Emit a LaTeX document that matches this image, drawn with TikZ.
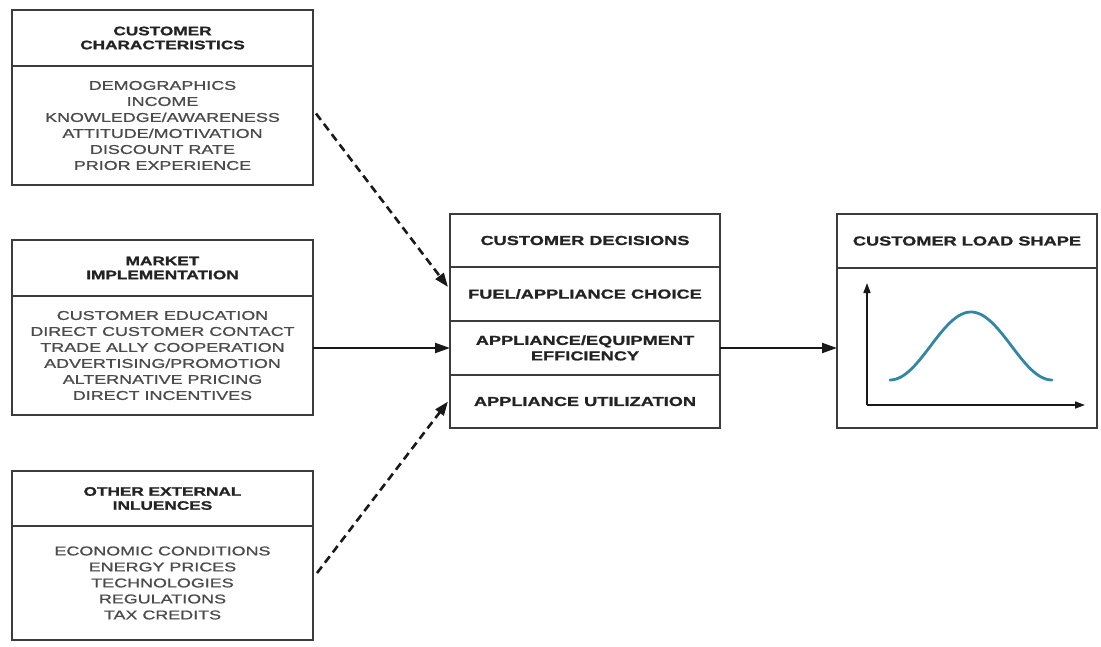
\documentclass[tikz,border=0pt]{standalone}
\usepackage{fontspec}
\setmainfont{Liberation Sans}[FakeStretch=1.4]
\newfontfamily\itemfont{Liberation Sans}[FakeStretch=1.4,FakeBold=1]
\newfontfamily\titlefont{Liberation Sans Bold}[FakeStretch=1.4,FakeBold=1.2]
\usetikzlibrary{arrows.meta}
\definecolor{boxline}{RGB}{60,60,60}
\definecolor{itemtext}{RGB}{75,75,75}
\definecolor{titletext}{RGB}{35,35,35}
\definecolor{arrowcol}{RGB}{25,25,25}
\definecolor{curvecol}{RGB}{50,135,165}
\begin{document}
\begin{tikzpicture}[x=1pt,y=-1pt,
  box/.style={draw=boxline,line width=2pt,inner sep=0pt,outer sep=0pt,align=center},
  ltitle/.style={box,minimum width=301pt,font=\titlefont\fontsize{12.3}{14}\selectfont,text=titletext},
  litems/.style={box,minimum width=301pt,font=\itemfont\fontsize{12.8}{16}\selectfont,text=itemtext},
  crow/.style={box,minimum width=270pt,font=\titlefont\fontsize{13}{15.5}\selectfont,text=titletext},
  rbox/.style={box,minimum width=260pt},
  solidarrow/.style={draw=arrowcol,line width=2pt,-{Triangle[length=15pt,width=10pt]}},
  dasharrow/.style={draw=arrowcol,line width=2.6pt,dash pattern=on 8pt off 5pt,-{Triangle[length=14pt,width=10pt]}},
  axisarrow/.style={draw=arrowcol,line width=1.6pt,-{Triangle[length=10pt,width=7pt]}}
]
\fill[white] (0,0) rectangle (1101,646);
\useasboundingbox (0,0) rectangle (1101,646);

% left boxes
\node[ltitle,minimum height=56pt] (c1t) at (162.5,38) {CUSTOMER\\CHARACTERISTICS};
\node[litems,minimum height=119pt] (c1b) at (162.5,125.5) {DEMOGRAPHICS\\INCOME\\KNOWLEDGE/AWARENESS\\ATTITUDE/MOTIVATION\\DISCOUNT RATE\\PRIOR EXPERIENCE};

\node[ltitle,minimum height=56pt] (c2t) at (162.5,268) {MARKET\\IMPLEMENTATION};
\node[litems,minimum height=119pt] (c2b) at (162.5,355.5) {CUSTOMER EDUCATION\\DIRECT CUSTOMER CONTACT\\TRADE ALLY COOPERATION\\ADVERTISING/PROMOTION\\ALTERNATIVE PRICING\\DIRECT INCENTIVES};

\node[ltitle,minimum height=55pt] (c3t) at (162.5,498.5) {OTHER EXTERNAL\\INLUENCES};
\node[litems,minimum height=114pt] (c3b) at (162.5,583) {ECONOMIC CONDITIONS\\ENERGY PRICES\\TECHNOLOGIES\\REGULATIONS\\TAX CREDITS};

% center box
\node[crow,minimum height=53pt] (dec) at (585,240.5) {CUSTOMER DECISIONS};
\node[crow,minimum height=54pt] (fuel) at (585,294) {FUEL/APPLIANCE CHOICE};
\node[crow,minimum height=54pt] (eff) at (585,348) {APPLIANCE/EQUIPMENT\\EFFICIENCY};
\node[crow,minimum height=53pt] (util) at (585,401.5) {APPLIANCE UTILIZATION};

% right box
\node[rbox,minimum height=54pt,font=\titlefont\fontsize{13}{15.5}\selectfont,text=titletext] (lst) at (967,241) {CUSTOMER LOAD SHAPE};
\node[rbox,minimum height=160pt] (lsb) at (967,348) {};

% load shape graph
\coordinate (origin) at (867,405);
\coordinate (ytop) at (867,283);
\coordinate (xend) at (1085,405);
\draw[axisarrow] (origin) -- (ytop);
\draw[axisarrow] (origin) -- (xend);
\draw[curvecol,line width=2.8pt,line cap=round] plot[domain=-81:81,samples=60,smooth] ({971+\x},{346-34*cos(2.2222*\x)});

% connectors
\draw[dasharrow] ([xshift=3pt,yshift=12pt]c1b.east) -- ([xshift=-2pt,yshift=7pt]fuel.west);
\draw[solidarrow] (c2b.east |- eff.west) -- (eff.west);
\draw[dasharrow] ([xshift=4pt,yshift=10pt]c3b.east) -- ([xshift=-2pt]util.west);
\draw[solidarrow] (eff.east) -- (lsb.west);
\end{tikzpicture}
\end{document}
